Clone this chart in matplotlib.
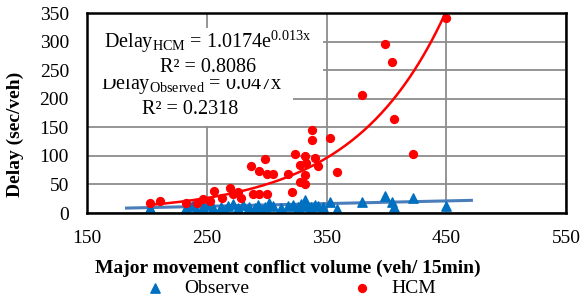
import matplotlib
matplotlib.use("Agg")
import matplotlib.pyplot as plt
import numpy as np
from matplotlib.patches import Rectangle

plt.rcParams['font.family'] = ['Liberation Serif', 'DejaVu Serif']
plt.rcParams['mathtext.fontset'] = 'custom'
plt.rcParams['mathtext.rm'] = 'Liberation Serif'
plt.rcParams['mathtext.it'] = 'Liberation Serif:italic'

# HCM delay points (veh/15min, sec/veh)
hcm_x = [203, 211, 233, 242, 247, 253, 256, 263, 269, 272, 276, 279, 287, 289, 294, 294,
         299, 300, 300, 305, 318, 321, 324, 328, 328, 332, 332, 332, 333, 338, 338, 340,
         343, 353, 359, 380, 399, 405, 406, 422, 450]
hcm_y = [17, 21, 18, 17, 24, 21, 38, 26, 43, 33, 36, 26, 83, 34, 74, 34,
         94, 33, 68, 68, 69, 37, 104, 84, 54, 99, 66, 50, 88, 146, 128, 96,
         82, 132, 71, 207, 295, 264, 165, 104, 342]

# observed delay points
obs_x = [203, 233, 238, 242, 247, 250, 255, 262, 265, 268, 272, 276, 280, 285, 290, 293,
         296, 299, 302, 305, 312, 318, 322, 326, 329, 332, 334, 337, 340, 343, 347, 353,
         359, 380, 399, 405, 406, 422, 450]
obs_y = [8, 8, 12, 6, 10, 14, 8, 10, 5, 12, 16, 8, 14, 10, 8, 14,
         5, 10, 18, 12, 8, 12, 14, 10, 16, 22, 12, 10, 14, 12, 10, 20,
         7, 20, 30, 19, 10, 26, 13]

# trend lines
hcm_a, hcm_b = 1.0174, 0.013
obs_k = 0.047
hcm_range = (203, 452)
obs_range = (183, 471)

fig = plt.figure(figsize=(5.84, 3.0), dpi=100)
ax = fig.add_axes([87/584, 1-213/300, 479/584, 200/300])

ax.set_xlim(150, 550)
ax.set_ylim(0, 350)
ax.set_xticks(np.arange(150, 551, 100))
ax.set_yticks(np.arange(0, 351, 50))
ax.grid(True, color='#8c8c8c', lw=1.3)
ax.set_axisbelow(True)
ax.tick_params(length=0, labelsize=14, pad=13)
ax.tick_params(axis='x', pad=12)
for s in ax.spines.values():
    s.set_linewidth(1.8)
    s.set_color('black')
    s.set_zorder(10)

# white boxes behind the equations
ax.add_patch(Rectangle((150, 152), 172, 88, fc='white', ec='none', zorder=1))
ax.add_patch(Rectangle((150, 234), 197, 90, fc='white', ec='none', zorder=1.5))

xo = np.linspace(*obs_range, 50)
ax.plot(xo, obs_k * xo, color='#4a7ebb', lw=2.2, zorder=6)
xh = np.linspace(*hcm_range, 200)
ax.plot(xh, hcm_a * np.exp(hcm_b * xh), color='red', lw=1.8, zorder=6)

ax.scatter(obs_x, obs_y, marker='^', s=45, color='#0070c0', zorder=7, label='Observe')
ax.scatter(hcm_x, hcm_y, marker='o', s=32, color='red', zorder=7, label='HCM')

ax.text(251, 299, r'Delay$_{\mathrm{HCM}}$ = 1.0174e$^{\mathrm{0.013x}}$', fontsize=14.5,
        ha='center', va='center', zorder=1.6)
ax.text(251, 254, 'R² = 0.8086', fontsize=14.5, ha='center', va='center', zorder=1.6)
ax.text(237.5, 224, r'Delay$_{\mathrm{Observed}}$ = 0.047x', fontsize=14.5,
        ha='center', va='center', zorder=1.2)
ax.text(236.5, 182, 'R² = 0.2318', fontsize=14.5, ha='center', va='center', zorder=1.2)

fig.text(288/584, 1-268/300, 'Major movement conflict volume (veh/ 15min)',
         fontsize=14, fontweight='bold', ha='center', va='center')
fig.text(15/584, 1-134/300, 'Delay (sec/veh)', fontsize=14, fontweight='bold',
         rotation=90, ha='center', va='center')

fig.legend(loc='center', bbox_to_anchor=(291/584, 1-288/300), ncol=2, frameon=False,
           fontsize=14, columnspacing=5.3, handlelength=1.0, handletextpad=1.0,
           borderpad=0)

fig.savefig('out.png', dpi=100)
